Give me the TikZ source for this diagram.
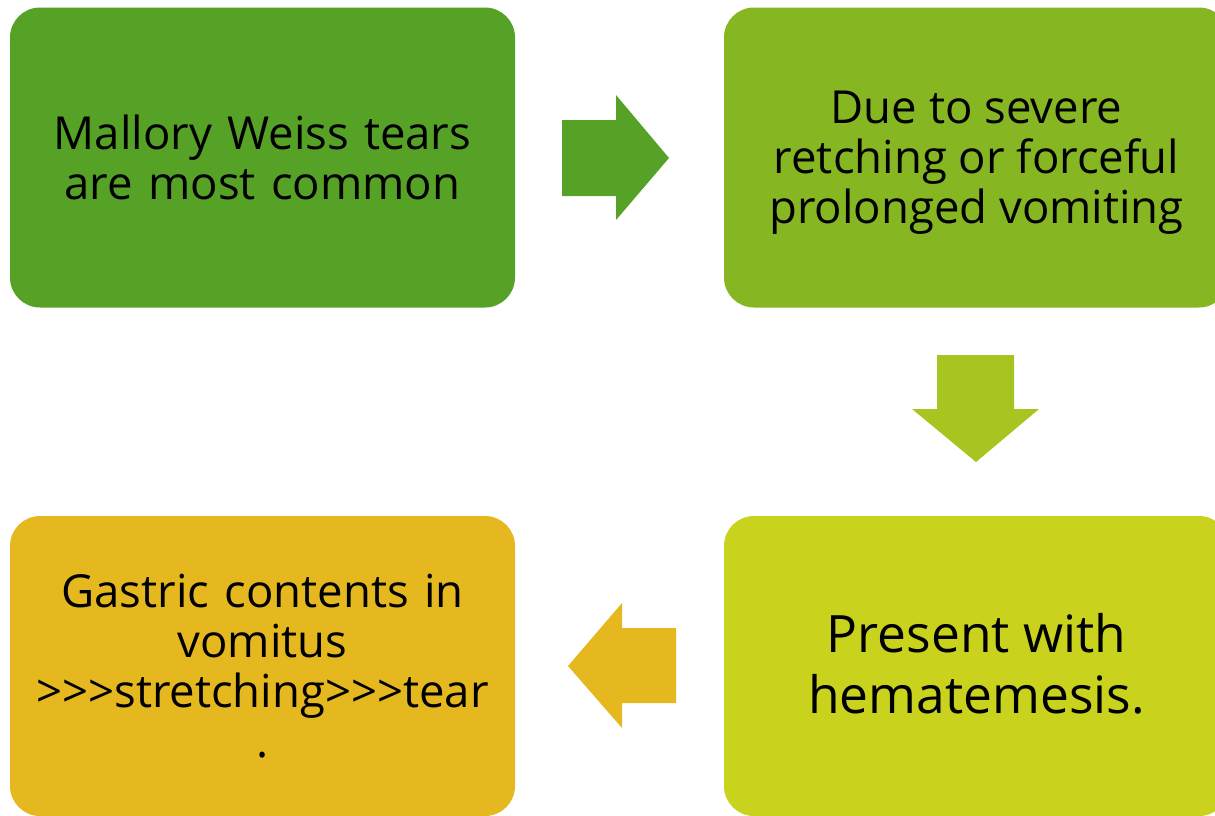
\documentclass[tikz,border=0pt]{standalone}
\usepackage{fontspec}
\setmainfont{Open Sans}[Ligatures=TeXOff]
\definecolor{cA}{RGB}{86,162,38}
\definecolor{cB}{RGB}{134,183,35}
\definecolor{cC}{RGB}{167,197,32}
\definecolor{cD}{RGB}{201,210,29}
\definecolor{cE}{RGB}{229,184,32}
\tikzset{
  box/.style={rounded corners=30pt, inner sep=0pt, outer sep=0pt,
    minimum width=505pt, minimum height=300pt, text width=495pt, align=center,
    text=black},
  txt/.style={font=\fontsize{45.5}{50}\selectfont},
  txtbig/.style={font=\fontsize{51.5}{61}\selectfont},
}
\begin{document}
\begin{tikzpicture}[x=1pt,y=-1pt]
\useasboundingbox (0,0) rectangle (1215,815);
\clip (0,0) rectangle (1215,815);
\node[box, fill=cA, txt] (b1) at (262.5,157.5) {Mallory Weiss tears\\are most common};
\node[box, fill=cB, txt] (b2) at (976.5,157.5) {};
\node[txt, align=center, inner sep=0pt] (t2) at (976.5,162.5) {Due to severe\\retching or forceful\\prolonged vomiting};
\node[box, fill=cD, txtbig] (b3) at (976.5,666) {};
\node[txtbig, align=center, inner sep=0pt] (t3) at (976.5,664) {Present with\\hematemesis.};
\node[box, fill=cE, txt] (b4) at (262.5,666) {Gastric contents in\\vomitus\\>>>stretching>>>tear\\.};
% right arrow
\fill[cA] (562,120) -- (616,120) -- (616,95) -- (669,158) -- (616,220) -- (616,196) -- (562,196) -- cycle;
% down arrow
\fill[cC] (937,355) -- (1014,355) -- (1014,409) -- (1039,409) -- (976,462) -- (912,409) -- (937,409) -- cycle;
% left arrow
\fill[cE] (676,628) -- (622,628) -- (622,603) -- (568,666) -- (622,728) -- (622,703) -- (676,703) -- cycle;
\end{tikzpicture}
\end{document}
